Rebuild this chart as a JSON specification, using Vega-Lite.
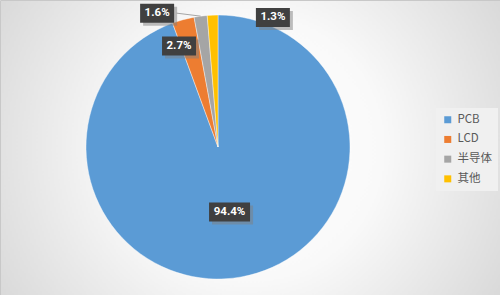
{
  "$schema": "https://vega.github.io/schema/vega-lite/v6.json",
  "width": 500,
  "height": 295,
  "autosize": {"type": "none"},
  "padding": 0,
  "background": "#ffffff",
  "config": {
    "view": {
      "fill": {
        "gradient": "radial",
        "x1": 0.5, "y1": 0.5, "r1": 0,
        "x2": 0.5, "y2": 0.5, "r2": 0.75,
        "stops": [
          {"offset": 0, "color": "#ffffff"},
          {"offset": 0.35, "color": "#f9f9f9"},
          {"offset": 1, "color": "#c8c8c8"}
        ]
      },
      "stroke": "#c8c8c8",
      "strokeWidth": 1
    },
    "axis": {"disable": true}
  },
  "data": {
    "values": [
      {"k": "PCB", "v": 94.4},
      {"k": "LCD", "v": 2.7},
      {"k": "半导体", "v": 1.6},
      {"k": "其他", "v": 1.3}
    ]
  },
  "transform": [
    {"window": [{"op": "sum", "field": "v", "as": "a1"}], "frame": [null, 0]},
    {"calculate": "datum.a1 - datum.v", "as": "a0"},
    {"calculate": "(datum.a0 + datum.a1) * PI / 100", "as": "mid"},
    {"calculate": "format(datum.v, '.1f') + '%'", "as": "lab"},
    {"calculate": "datum.mid + (datum.k == 'LCD' ? -5.8 : datum.k == '半导体' ? -16.9 : datum.k == '其他' ? 25.3 : 0) * PI / 180", "as": "la"},
    {"calculate": "datum.k == 'PCB' ? 0.5 : datum.k == 'LCD' ? 0.82 : datum.k == '半导体' ? 1.114 : 1.066", "as": "lr"},
    {"calculate": "datum.lr * sin(datum.la)", "as": "lx"},
    {"calculate": "datum.lr * cos(datum.la)", "as": "ly"},
    {"calculate": "datum.lx + 19.5 / 132", "as": "sx"},
    {"calculate": "sin(datum.mid)", "as": "ex"},
    {"calculate": "cos(datum.mid)", "as": "ey"}
  ],
  "layer": [
    {
      "mark": {"type": "arc", "outerRadius": 132, "stroke": "#ffffff", "strokeWidth": 0.4},
      "encoding": {
        "x": {"datum": 0, "type": "quantitative", "scale": {"domain": [-1.65152, 2.13636], "nice": false, "zero": false}},
        "y": {"datum": 0, "type": "quantitative", "scale": {"domain": [-1.12121, 1.11364], "nice": false, "zero": false}},
        "theta": {"field": "a0", "type": "quantitative", "scale": {"domain": [0, 100]}, "stack": null},
        "theta2": {"field": "a1"},
        "color": {
          "field": "k",
          "type": "nominal",
          "scale": {
            "domain": ["PCB", "LCD", "半导体", "其他"],
            "range": ["#5b9bd5", "#ed7d31", "#a5a5a5", "#ffc000"]
          },
          "legend": {
            "title": null,
            "orient": "none",
            "legendX": 436,
            "legendY": 108,
            "fillColor": "#f0f0f0",
            "padding": 6,
            "symbolType": "square",
            "symbolSize": 49,
            "symbolStrokeWidth": 0,
            "labelFont": "Noto Sans CJK SC",
            "labelFontSize": 11.5,
            "labelColor": "#595959",
            "labelOffset": 4,
            "rowPadding": 6.7
          }
        }
      }
    },
    {
      "transform": [{"filter": "datum.k == '半导体'"}],
      "mark": {"type": "rule", "color": "#a6a6a6", "strokeWidth": 1},
      "encoding": {
        "x": {"field": "sx", "type": "quantitative"},
        "y": {"field": "ly", "type": "quantitative"},
        "x2": {"field": "ex"},
        "y2": {"field": "ey"}
      }
    },
    {
      "mark": {"type": "point", "filled": true, "fill": "#7f7f7f", "opacity": 0.5, "strokeWidth": 0, "xOffset": 3, "yOffset": 3},
      "encoding": {
        "x": {"field": "lx", "type": "quantitative"},
        "y": {"field": "ly", "type": "quantitative"},
        "shape": {"condition": {"test": "datum.k == 'PCB'", "value": "M-1,-0.4634H1V0.4634H-1Z"}, "value": "M-1,-0.5588H1V0.5588H-1Z"},
        "size": {"condition": {"test": "datum.k == 'PCB'", "value": 1681}, "value": 1156}
      }
    },
    {
      "mark": {"type": "point", "filled": true, "fill": "#404040", "opacity": 1, "strokeWidth": 0},
      "encoding": {
        "x": {"field": "lx", "type": "quantitative"},
        "y": {"field": "ly", "type": "quantitative"},
        "shape": {"condition": {"test": "datum.k == 'PCB'", "value": "M-1,-0.4634H1V0.4634H-1Z"}, "value": "M-1,-0.5588H1V0.5588H-1Z"},
        "size": {"condition": {"test": "datum.k == 'PCB'", "value": 1681}, "value": 1156}
      }
    },
    {
      "mark": {"type": "text", "font": "Roboto", "fontWeight": "bold", "fontSize": 11.5, "color": "#ffffff", "align": "center", "baseline": "middle"},
      "encoding": {
        "x": {"field": "lx", "type": "quantitative"},
        "y": {"field": "ly", "type": "quantitative"},
        "text": {"field": "lab"}
      }
    }
  ]
}
